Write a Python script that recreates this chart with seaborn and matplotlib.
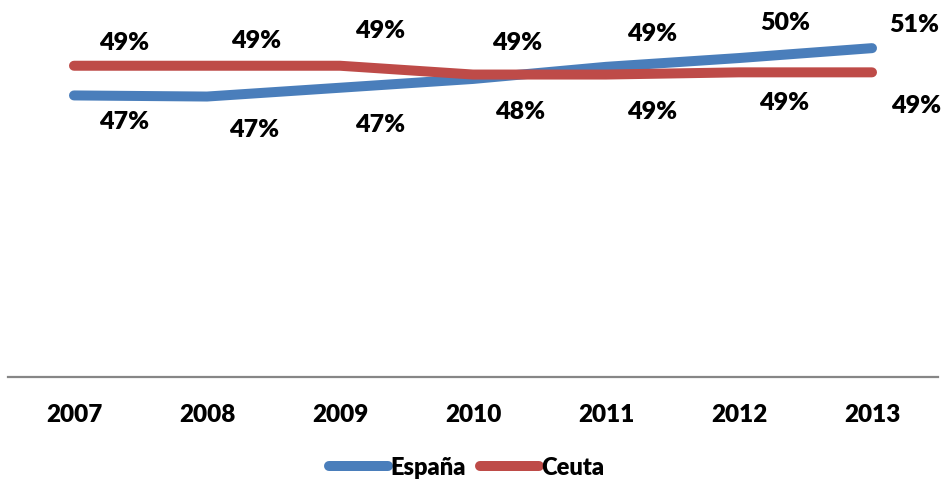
import matplotlib
matplotlib.use("Agg")
import matplotlib.pyplot as plt
import pandas as pd
import seaborn as sns

years = ["2007", "2008", "2009", "2010", "2011", "2012", "2013"]
espana = [0.467, 0.466, 0.474, 0.482, 0.493, 0.501, 0.510]
ceuta = [0.494, 0.494, 0.494, 0.486, 0.486, 0.488, 0.488]

# label offsets (pixels) from each point, as placed in the original
espana_offsets = [(50, -26), (47, -32), (40, -36), (47, -32), (46, 34), (46, 36), (42, 24)]
ceuta_offsets = [(50, 24), (49, 26), (40, 36), (44, 33), (46, -36), (45, -30), (44, -33)]

df = pd.DataFrame({
    "year": years * 2,
    "value": espana + ceuta,
    "serie": ["España"] * len(years) + ["Ceuta"] * len(years),
})

sns.set_style("white")
plt.rcParams["font.family"] = ["Lato", "DejaVu Sans"]
plt.rcParams["font.weight"] = "heavy"
plt.rcParams["text.color"] = "black"
plt.rcParams["xtick.color"] = "black"

fig = plt.figure(figsize=(9.45, 4.85), dpi=100)
ax = fig.add_axes([7.5 / 945, 107 / 485, 931 / 945, 358 / 485])

colors = {"España": "#4A7EBB", "Ceuta": "#BE4B48"}
sns.lineplot(data=df, x="year", y="value", hue="serie", palette=colors,
             linewidth=7.2, solid_capstyle="round", sort=False, ax=ax, legend=False)

for serie, vals, offs in [("España", espana, espana_offsets), ("Ceuta", ceuta, ceuta_offsets)]:
    for i, (v, o) in enumerate(zip(vals, offs)):
        ax.annotate(f"{v:.0%}", xy=(i, v), xytext=o, textcoords="offset pixels",
                    ha="center", va="center", fontsize=18, fontweight="heavy", color="black")

ax.set_xlim(-0.5, 6.5)
ax.set_ylim(0.211, 0.5365)
ax.set_yticks([])
ax.set_xlabel("")
ax.set_ylabel("")
for s in ["top", "left", "right"]:
    ax.spines[s].set_visible(False)
ax.spines["bottom"].set_color("#868686")
ax.spines["bottom"].set_linewidth(1.6)
ax.tick_params(axis="x", length=0, pad=19, labelsize=17.5, labelcolor="black")
for t in ax.get_xticklabels():
    t.set_fontweight("heavy")

handles = [plt.Line2D([], [], color=colors[k], linewidth=7.2, solid_capstyle="round") for k in ["España", "Ceuta"]]
fig.legend(handles, ["España", "Ceuta"], loc="center", bbox_to_anchor=(467 / 945, 1 - 468 / 485),
           ncol=2, frameon=False, handlelength=2.5, handletextpad=0.1,
           columnspacing=0.6, prop={"weight": "heavy", "size": 17})

fig.savefig("out.png", dpi=100)
